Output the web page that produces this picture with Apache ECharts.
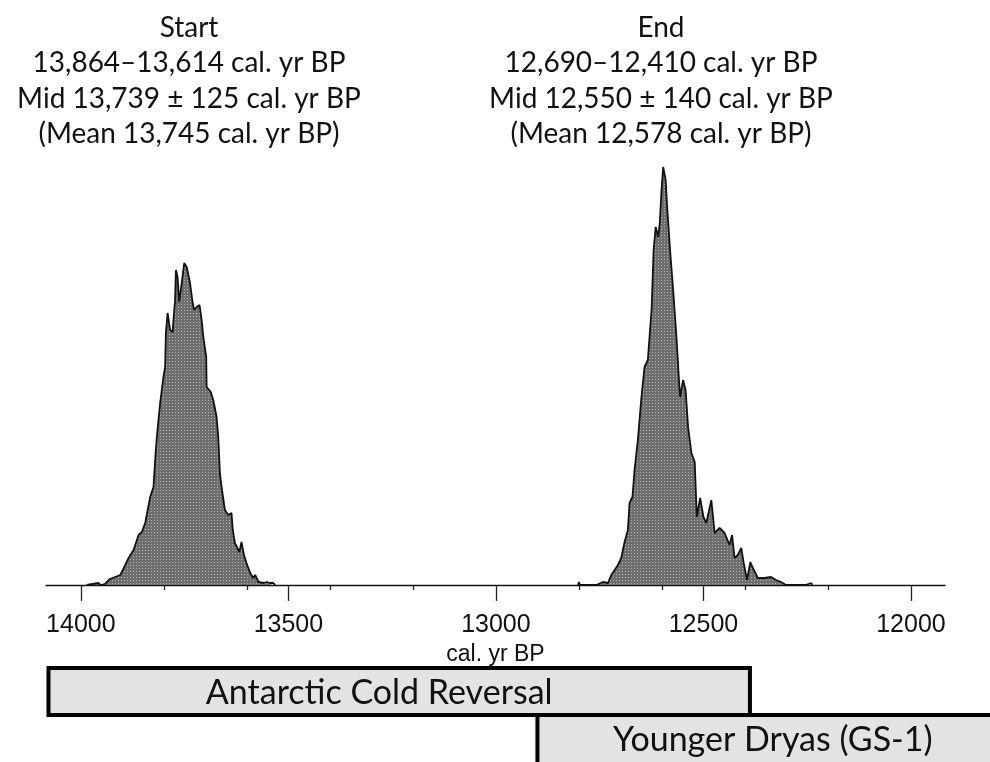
<!DOCTYPE html>
<html>
<head>
<meta charset="utf-8">
<script src="https://cdn.jsdelivr.net/npm/echarts@6/dist/echarts.min.js"></script>
<style>
  html, body { margin: 0; padding: 0; background: #ffffff; }
  #chart { width: 990px; height: 762px; }
</style>
</head>
<body>
<div id="chart"></div>
<script>
// Modelled probability distributions (cal. yr BP) for the start and end boundaries
const startYears = [13986, 13982, 13958, 13952, 13942, 13930, 13905, 13893, 13885, 13873,
  13861, 13853, 13845, 13833, 13825, 13821, 13817, 13809, 13801, 13797,
  13795, 13791, 13785, 13779, 13773, 13771, 13767, 13763, 13757, 13751,
  13745, 13737, 13731, 13727, 13721, 13714, 13709, 13705, 13698, 13697,
  13687, 13681, 13673, 13669, 13665, 13661, 13653, 13645, 13637, 13634,
  13629, 13625, 13618, 13613, 13607, 13601, 13593, 13585, 13580, 13572,
  13560, 13552, 13544, 13536, 13532];
const startDensity = [0, 2, 2, 0, 1, 6, 10, 20, 27, 35,
  50, 53, 62, 88, 98, 125, 148, 182, 208, 218,
  253, 272, 255, 253, 285, 315, 308, 283, 302, 322,
  318, 302, 283, 275, 278, 280, 265, 248, 228, 198,
  193, 185, 168, 148, 112, 98, 75, 70, 72, 55,
  42, 43, 33, 43, 30, 22, 13, 7, 10, 3,
  2, 3, 2, 2, 0];

const endYears = [12802, 12800, 12798, 12758, 12742, 12730, 12722, 12706, 12698, 12690,
  12682, 12678, 12671, 12666, 12658, 12650, 12642, 12634, 12625, 12620,
  12615, 12609, 12605, 12601, 12597, 12591, 12588, 12581, 12573, 12565,
  12559, 12556, 12549, 12543, 12537, 12529, 12521, 12516, 12508, 12500,
  12493, 12481, 12473, 12461, 12449, 12437, 12431, 12425, 12417, 12409,
  12403, 12395, 12387, 12381, 12369, 12353, 12337, 12325, 12313, 12301,
  12254, 12252, 12240, 12238];
const endDensity = [0, 3, 0, 0, 3, 2, 10, 20, 27, 43,
  55, 82, 88, 115, 145, 185, 218, 225, 275, 335,
  358, 348, 363, 395, 418, 405, 382, 338, 295, 248,
  205, 188, 205, 195, 158, 132, 123, 68, 87, 68,
  62, 85, 52, 57, 52, 40, 50, 27, 30, 37,
  22, 5, 23, 17, 7, 7, 8, 5, 3, 0,
  0, 2, 2, 0];

// Axis ticks (cal. yr BP)
const majorTicks = [14000, 13500, 13000, 12500, 12000];
const minorTicks = [13800, 13600, 13400, 13200, 12800, 12600, 12400, 12200];
const axisMin = 11918;
const axisMax = 14084;

// Climate periods (older bound, younger bound, row)
const periodNames = ['Antarctic Cold Reversal', 'Younger Dryas (GS-1)'];
const periodStart = [14078, 12900];
const periodEnd = [12388, 11600];
const periodRow = [0, 1];

// Boundary summaries
const startLabel = ['Start', '13,864\u201313,614 cal. yr BP', 'Mid 13,739 \u00b1 125 cal. yr BP', '(Mean 13,745 cal. yr BP)'];
const endLabel = ['End', '12,690\u201312,410 cal. yr BP', 'Mid 12,550 \u00b1 140 cal. yr BP', '(Mean 12,578 cal. yr BP)'];

// Halftone fill used for the distributions
function makeHalftone() {
  const c = document.createElement('canvas');
  c.width = 3; c.height = 3;
  const g = c.getContext('2d');
  g.fillStyle = '#6e6e6e';
  g.fillRect(0, 0, 3, 3);
  g.fillStyle = '#b4b4b4';
  g.fillRect(1, 1, 1, 1);
  return c;
}
const halftone = { image: makeHalftone(), repeat: 'repeat' };

const startData = startYears.map((y, i) => [y, startDensity[i]]);
const endData = endYears.map((y, i) => [y, endDensity[i]]);
const periodData = periodNames.map((n, i) => ({ name: n, value: [periodStart[i], periodEnd[i], periodRow[i]] }));

const CHART_W = 990;
const labelShift = [-20, 9];

const chart = echarts.init(document.getElementById('chart'), null, { renderer: 'canvas' });

function distSeries(data) {
  return {
    type: 'line',
    xAxisIndex: 0,
    yAxisIndex: 0,
    data: data,
    symbol: 'none',
    smooth: false,
    silent: true,
    lineStyle: { color: '#111111', width: 1.8 },
    areaStyle: { color: halftone, opacity: 1 },
    z: 3
  };
}

const titleStyle = {
  align: 'center', textAlign: 'center', verticalAlign: 'top', textVerticalAlign: 'top',
  fontSize: 28, fontFamily: 'Lato, sans-serif', lineHeight: 35.5, fill: '#111111'
};

chart.setOption({
  animation: false,
  backgroundColor: '#ffffff',
  grid: [
    { left: 46, right: 45, top: 165, bottom: 177 },
    { left: 46, right: 45, top: 668, height: 96 }
  ],
  xAxis: [
    {
      type: 'value', gridIndex: 0, min: axisMin, max: axisMax, inverse: true, position: 'bottom',
      axisLine: { show: true, onZero: false, lineStyle: { color: '#111111', width: 1.3 } },
      axisTick: { show: true, customValues: majorTicks, length: 16, lineStyle: { color: '#222222', width: 1.3 } },
      axisLabel: { show: true, customValues: majorTicks, margin: 28, fontSize: 25, color: '#111111',
        fontFamily: 'Liberation Sans, Arial, sans-serif', formatter: v => String(v) },
      splitLine: { show: false },
      name: 'cal. yr BP', nameLocation: 'middle', nameGap: 52,
      nameTextStyle: { fontSize: 23, color: '#111111', fontFamily: 'Liberation Sans, Arial, sans-serif' }
    },
    {
      type: 'value', gridIndex: 0, min: axisMin, max: axisMax, inverse: true, position: 'bottom',
      axisLine: { show: false, onZero: false },
      axisTick: { show: true, customValues: minorTicks, length: 5, lineStyle: { color: '#222222', width: 1.3 } },
      axisLabel: { show: false },
      splitLine: { show: false }
    },
    {
      type: 'value', gridIndex: 1, min: axisMin, max: axisMax, inverse: true, show: false
    }
  ],
  yAxis: [
    { type: 'value', gridIndex: 0, min: 0, max: 420, show: false },
    { type: 'value', gridIndex: 1, min: 0, max: 2, inverse: true, show: false }
  ],
  graphic: [
    { type: 'text', x: 189, y: 10, silent: true, style: Object.assign({ text: startLabel.join('\n') }, titleStyle) },
    { type: 'text', x: 661, y: 10, silent: true, style: Object.assign({ text: endLabel.join('\n') }, titleStyle) }
  ],
  series: [
    distSeries(startData),
    distSeries(endData),
    {
      type: 'custom',
      xAxisIndex: 2,
      yAxisIndex: 1,
      clip: false,
      silent: true,
      data: periodData,
      encode: { x: [0, 1], y: 2 },
      renderItem: function (params, api) {
        const row = api.value(2);
        const p0 = api.coord([api.value(0), row]);
        const p1 = api.coord([api.value(1), row + 1]);
        const x0 = Math.min(p0[0], p1[0]);
        const x1 = Math.max(p0[0], p1[0]);
        const y0 = Math.min(p0[1], p1[1]);
        const y1 = Math.max(p0[1], p1[1]);
        const idx = params.dataIndex;
        // the last band runs on past the lower edge of the figure
        const yBottom = idx === periodNames.length - 1 ? y1 + 12 : y1;
        const visRight = Math.min(x1, CHART_W);
        return {
          type: 'group',
          children: [
            { type: 'rect', shape: { x: x0, y: y0, width: x1 - x0, height: yBottom - y0 },
              style: { fill: '#e3e3e3', stroke: '#000000', lineWidth: 4 } },
            { type: 'text',
              style: { text: periodNames[idx], x: (x0 + visRight) / 2 + labelShift[idx], y: (y0 + y1) / 2 + 2,
                align: 'center', verticalAlign: 'middle', textAlign: 'center', textVerticalAlign: 'middle',
                fontSize: 34, fontFamily: 'Lato, sans-serif', fill: '#111111' } }
          ]
        };
      },
      z: 2
    }
  ]
});
</script>
</body>
</html>
